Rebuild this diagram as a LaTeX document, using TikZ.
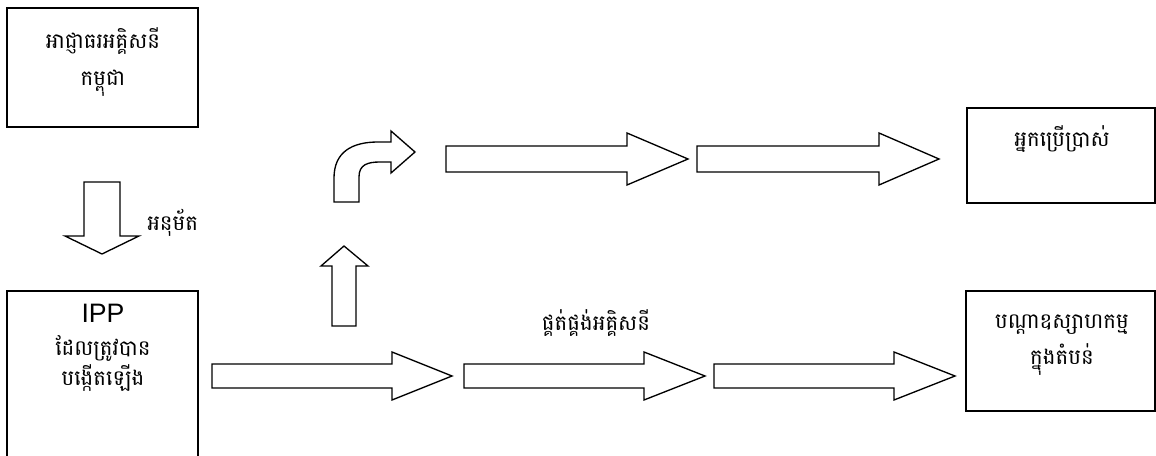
\documentclass[tikz,border=0pt]{standalone}
\usepackage{fontspec}
\setmainfont{Liberation Sans}
\newfontfamily\khmer[Script=Khmer]{Battambang}
\usetikzlibrary{positioning}

\begin{document}
\begin{tikzpicture}[x=0.75pt,y=-0.75pt,
  box/.style={line width=1.4pt},
  blockarrow/.style={line width=1pt,line join=miter},
  kh/.style={font=\khmer\fontsize{16}{27.5}\selectfont,align=center,inner sep=0pt}]
\useasboundingbox (0,0) rectangle (1156,456);
% boxes
\draw[box] (7,8) rectangle (198,127);
\node[kh] (edc) at (103,62) {អាជ្ញាធរអគ្គិសនី\\កម្ពុជា};
\draw[box] (7,470) -- (7,291) -- (198,291) -- (198,470);
\node[font=\fontsize{20}{24}\selectfont,inner sep=0pt] (ipp) at (103,313) {IPP};
\node[kh] (ippa) at (103,348) {ដែលត្រូវបាន};
\node[kh] (ippb) at (103,378) {បង្កើតឡើង};
\draw[box] (967,108) rectangle (1155,203);
\node[kh] (user) at (1062,139) {អ្នកប្រើប្រាស់};
\draw[box] (966,291) rectangle (1155,411);
\node[kh] (zone) at (1062,345) {បណ្ដាឧស្សាហកម្ម\\ក្នុងតំបន់};
% approve
\draw[blockarrow]
(84,182) -- ++(36,0) -- ++(0,54) -- ++(19,0) -- ++(-37,18)
-- ++(-37,-18) -- ++(19,0) -- cycle;
\node[kh,anchor=west] (approve) at (147,223) {អនុម័ត};
% up and bent
\draw[blockarrow]
(332,326) -- ++(0,-60) -- ++(-11,0) -- ++(23,-20) -- ++(24,20)
-- ++(-12,0) -- ++(0,60) -- cycle;
\draw[blockarrow]
(334,202) -- (334,178) .. controls (334,152) and (352,142) .. (378,142)
-- (391,142) -- (391,131) -- (415,152) -- (391,173) -- (391,162)
-- (380,162) .. controls (367,162) and (359,165) .. (359,177) -- (359,202) -- cycle;
% top row
\draw[blockarrow]
(446,146) -- ++(181,0) -- ++(0,-13) -- ++(61,26) -- ++(-61,26)
-- ++(0,-13) -- ++(-181,0) -- cycle;
\draw[blockarrow]
(697,146) -- ++(182,0) -- ++(0,-13) -- ++(60,26) -- ++(-60,26)
-- ++(0,-13) -- ++(-182,0) -- cycle;
% bottom row
\draw[blockarrow]
(212,364) -- ++(180,0) -- ++(0,-12) -- ++(60,24) -- ++(-60,24)
-- ++(0,-12) -- ++(-180,0) -- cycle;
\draw[blockarrow]
(464,364) -- ++(180,0) -- ++(0,-12) -- ++(61,24) -- ++(-61,24)
-- ++(0,-12) -- ++(-180,0) -- cycle;
\draw[blockarrow]
(714,364) -- ++(180,0) -- ++(0,-12) -- ++(61,24) -- ++(-61,24)
-- ++(0,-12) -- ++(-180,0) -- cycle;
\node[kh] (supply) at (596,323) {ផ្គត់ផ្គង់អគ្គិសនី};
\end{tikzpicture}
\end{document}
